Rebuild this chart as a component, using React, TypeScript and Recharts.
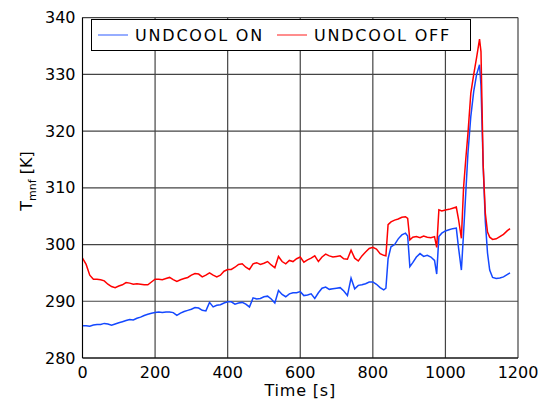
import React from 'react'
import { LineChart, Line, XAxis, YAxis, CartesianGrid } from 'recharts'

const TIME = [
  0, 10, 20, 30, 40, 50, 60, 70, 80, 90, 100, 110, 120, 130, 140, 150, 160, 170, 180, 190,
  200, 210, 220, 230, 240, 250, 260, 270, 280, 290, 300, 310, 320, 330, 340, 350, 360, 370, 380, 390,
  400, 410, 420, 430, 440, 450, 460, 470, 480, 490, 500, 510, 520, 530, 540, 550, 560, 570, 580, 590,
  600, 610, 620, 630, 640, 650, 660, 670, 680, 690, 700, 710, 720, 730, 740, 750, 760, 770, 780, 790,
  800, 810, 820, 830, 836, 842, 850, 860, 870, 880, 890, 896, 902, 910, 920, 930, 940, 950, 960, 970,
  976, 982, 990, 1000, 1010, 1020, 1030, 1036, 1044, 1050, 1056, 1062, 1070, 1078, 1086, 1094, 1098, 1104, 1110, 1116,
  1122, 1130, 1140, 1150, 1160, 1170, 1178,
]

const UNDCOOL_ON = [
  285.7, 285.7, 285.6, 285.8, 285.9, 285.9, 286.1, 286.0, 285.8, 286.0, 286.2, 286.4, 286.6, 286.8, 286.7, 287.0, 287.2, 287.5, 287.7, 287.9,
  288.0, 288.1, 288.0, 288.1, 288.1, 288.0, 287.5, 287.9, 288.2, 288.4, 288.6, 288.9, 288.8, 288.4, 288.3, 289.8, 289.0, 289.3, 289.4, 289.7,
  289.9, 289.9, 289.5, 289.7, 289.8, 289.5, 289.0, 290.6, 290.4, 290.5, 290.8, 290.9, 290.4, 289.7, 291.9, 291.2, 290.8, 291.3, 291.5, 291.5,
  291.7, 291.0, 291.1, 291.3, 290.5, 291.5, 292.3, 292.5, 292.1, 292.2, 292.3, 292.4, 291.8, 291.0, 294.1, 292.2, 292.8, 292.9, 293.1, 293.4,
  293.4, 293.0, 292.4, 292.0, 292.3, 297.5, 299.6, 300.0, 301.0, 301.7, 302.0, 301.5, 296.1, 296.8, 297.8, 298.4, 297.9, 298.1, 297.8, 297.2,
  294.8, 301.4, 302.0, 302.4, 302.6, 302.8, 302.9, 299.5, 295.5, 302.0, 309.0, 316.0, 322.6, 327.0, 330.0, 331.7, 328.0, 314.0, 304.0, 298.5,
  295.5, 294.2, 294.0, 294.1, 294.3, 294.7, 295.0,
]

const UNDCOOL_OFF = [
  297.6, 296.5, 294.6, 293.9, 293.9, 293.8, 293.6, 293.0, 292.6, 292.4, 292.7, 292.9, 293.3, 293.2, 293.0, 293.1, 293.0, 292.9, 292.9, 293.4,
  293.9, 293.9, 293.8, 294.0, 294.2, 293.8, 293.5, 293.8, 294.0, 294.2, 294.6, 294.9, 294.8, 294.3, 294.6, 295.0, 294.6, 294.3, 294.6, 295.3,
  295.6, 295.6, 296.0, 296.5, 296.6, 296.0, 295.6, 296.6, 296.8, 296.5, 296.7, 297.0, 296.4, 295.9, 297.9, 297.0, 296.6, 297.2, 297.0, 297.5,
  297.8, 296.9, 297.3, 297.6, 298.0, 297.0, 297.8, 298.3, 298.0, 297.8, 297.9, 298.0, 297.5, 297.4, 299.0, 297.6, 297.1, 298.0, 298.7, 299.3,
  299.5, 299.2, 298.4, 298.1, 298.0, 303.5, 304.0, 304.3, 304.5, 304.8, 304.9, 304.6, 300.8, 301.3, 301.4, 301.2, 301.5, 301.3, 301.2, 301.4,
  299.5, 306.1, 305.9, 306.1, 306.2, 306.4, 306.6, 304.5, 301.1, 310.0, 315.0, 319.5, 326.7, 330.0, 333.0, 336.2, 334.0, 314.0, 305.5, 302.2,
  301.3, 300.9, 301.0, 301.4, 301.8, 302.4, 302.8,
]

const X_TICKS = [0, 200, 400, 600, 800, 1000, 1200]
const Y_TICKS = [280, 290, 300, 310, 320, 330, 340]

const data = TIME.map((t, i) => ({ t, on: UNDCOOL_ON[i], off: UNDCOOL_OFF[i] }))

const BLUE = '#1448ff'
const RED = '#ff0000'
const FONT = '"DejaVu Sans", sans-serif'

function LegendItem({ color, text }: { color: string; text: string }) {
  return (
    <div style={{ display: 'flex', alignItems: 'center', marginRight: 13 }}>
      <svg width={30} height={4} style={{ marginRight: 7 }}>
        <line x1={0} y1={2} x2={30} y2={2} stroke={color} strokeOpacity={0.6} strokeWidth={1.5} />
      </svg>
      <span style={{ fontSize: 16, letterSpacing: 1.8, color: '#000', whiteSpace: 'nowrap' }}>{text}</span>
    </div>
  )
}

function LegendBox() {
  return (
    <div
      style={{
        position: 'absolute', left: 91, top: 19, width: 380, height: 32, boxSizing: 'border-box',
        border: '1px solid #000', background: '#fff', display: 'flex', alignItems: 'center',
        paddingLeft: 6, fontFamily: FONT,
      }}
    >
      <LegendItem color={BLUE} text="UNDCOOL ON" />
      <LegendItem color={RED} text="UNDCOOL OFF" />
    </div>
  )
}

function YLabel() {
  return (
    <text transform="translate(32,181) rotate(-90)" textAnchor="middle" fontSize={16} fill="#000" fontFamily={FONT}>
      T<tspan fontSize={11} dy={4}>mnf</tspan><tspan dy={-4}> [K]</tspan>
    </text>
  )
}

export default function App() {
  return (
    <div style={{ position: 'absolute', left: 0, top: 0, width: 549, height: 401, background: '#fff', fontFamily: FONT }}>
      <LineChart width={549} height={401} data={data} margin={{ top: 17.6, right: 31, left: 0, bottom: 0 }}>
        <CartesianGrid stroke="#444" strokeWidth={1.2} horizontalValues={Y_TICKS} verticalValues={X_TICKS} />
        <XAxis
          dataKey="t" type="number" domain={[0, 1200]} ticks={X_TICKS} height={43}
          tickSize={0} tickMargin={9} axisLine={{ stroke: '#000' }}
          tick={{ fontSize: 16, fill: '#000', fontFamily: FONT }}
          label={{ value: 'Time [s]', position: 'insideBottom', offset: 5, fontSize: 16, fill: '#000', fontFamily: FONT, letterSpacing: 0.8 }}
        />
        <YAxis
          type="number" domain={[280, 340]} ticks={Y_TICKS} width={82.5} allowDataOverflow
          tickSize={0} tickMargin={7} axisLine={{ stroke: '#000' }}
          tick={{ fontSize: 16, fill: '#000', fontFamily: FONT }}
          label={<YLabel />}
        />
        <Line dataKey="on" type="linear" stroke={BLUE} strokeWidth={1.5} dot={false} isAnimationActive={false} />
        <Line dataKey="off" type="linear" stroke={RED} strokeWidth={1.5} dot={false} isAnimationActive={false} />
      </LineChart>
      <LegendBox />
    </div>
  )
}
